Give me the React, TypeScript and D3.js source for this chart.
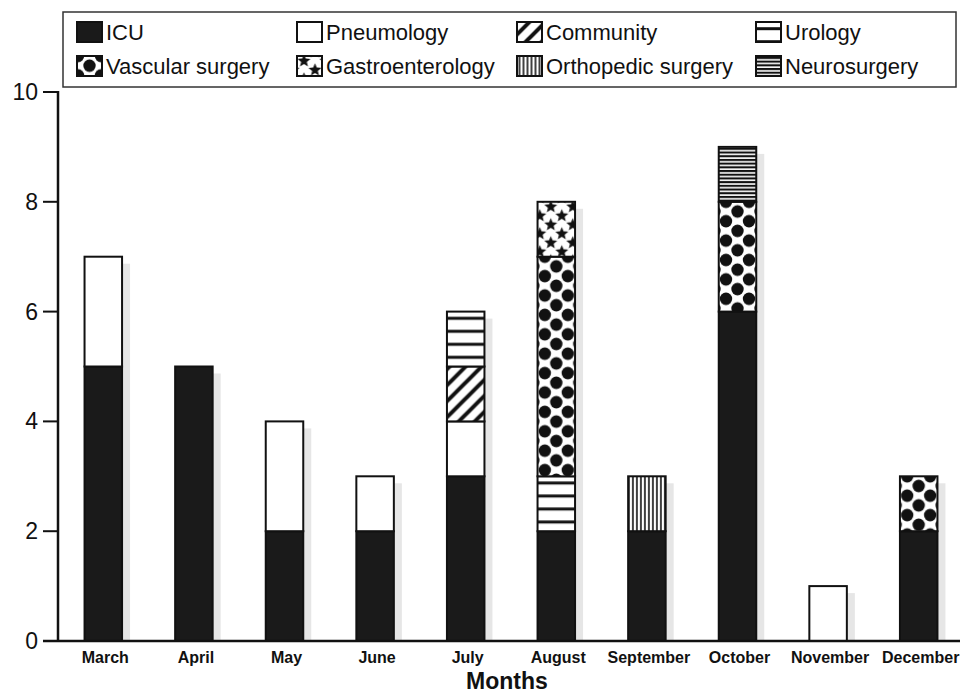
import React from "react";
import * as d3 from "d3";

const months = ["March", "April", "May", "June", "July", "August", "September", "October", "November", "December"];
const categories = ["ICU", "Pneumology", "Community", "Urology", "Vascular surgery", "Gastroenterology", "Orthopedic surgery", "Neurosurgery"];
const icu = [5, 5, 2, 2, 3, 2, 2, 6, 0, 2];
const pneumology = [2, 0, 2, 1, 1, 0, 0, 0, 1, 0];
const community = [0, 0, 0, 0, 1, 0, 0, 0, 0, 0];
const urology = [0, 0, 0, 0, 1, 1, 0, 0, 0, 0];
const vascular = [0, 0, 0, 0, 0, 4, 0, 2, 0, 1];
const gastro = [0, 0, 0, 0, 0, 1, 0, 0, 0, 0];
const ortho = [0, 0, 0, 0, 0, 0, 1, 0, 0, 0];
const neuro = [0, 0, 0, 0, 0, 0, 0, 1, 0, 0];
const yTicks = [0, 2, 4, 6, 8, 10];

const seriesValues = [icu, pneumology, community, urology, vascular, gastro, ortho, neuro];
const keys = ["icu", "pneu", "comm", "uro", "vasc", "gastro", "ortho", "neuro"];

const W = 960;
const H = 694;
const X0 = 58;
const X1 = 964;
const Y0 = 641;
const Y1 = 92;

function starPath(cx: number, cy: number, ro: number, ri: number) {
  const pts: string[] = [];
  for (let i = 0; i < 10; i++) {
    const a = -Math.PI / 2 + (i * Math.PI) / 5;
    const r = i % 2 === 0 ? ro : ri;
    pts.push(`${(cx + r * Math.cos(a)).toFixed(2)},${(cy + r * Math.sin(a)).toFixed(2)}`);
  }
  return "M" + pts.join("L") + "Z";
}

function PatternDef({ id, k, tx, ty }: { id: string; k: string; tx: number; ty: number }) {
  const common = { id, patternUnits: "userSpaceOnUse" as const };
  if (k === "comm") {
    const s = 16;
    return (
      <pattern {...common} width={s} height={s} patternTransform={`translate(${tx},${ty})`}>
        <rect width={s} height={s} fill="#fff" />
        <path d={`M-4,${s + 4} L${s + 4},-4 M-4,4 L4,-4 M${s - 4},${s + 4} L${s + 4},${s - 4}`} stroke="#111" strokeWidth={4} />
      </pattern>
    );
  }
  if (k === "uro") {
    const h = 13;
    return (
      <pattern {...common} width={10} height={h} patternTransform={`translate(${tx},${ty})`}>
        <rect width={10} height={h} fill="#fff" />
        <rect y={5.2} width={10} height={3} fill="#111" />
      </pattern>
    );
  }
  if (k === "vasc") {
    const w = 23, h = 19.4, r = 6.2;
    return (
      <pattern {...common} width={w} height={h} patternTransform={`translate(${tx - w / 2},${ty})`}>
        <rect width={w} height={h} fill="#fff" />
        {[[0, 0], [w, 0], [0, h], [w, h], [w / 2, h / 2]].map(([x, y], i) => (
          <circle key={i} cx={x} cy={y} r={r} fill="#111" />
        ))}
      </pattern>
    );
  }
  if (k === "gastro") {
    const w = 22, h = 18, ro = 6.8, ri = 3;
    return (
      <pattern {...common} width={w} height={h} patternTransform={`translate(${tx - w / 2},${ty})`}>
        <rect width={w} height={h} fill="#fff" />
        <path d={starPath(5.5, 5, ro, ri)} fill="#111" />
        <path d={starPath(16.5, 14, ro, ri)} fill="#111" />
        <path d={starPath(16.5, -4, ro, ri)} fill="#111" />
        <path d={starPath(-5.5, 14, ro, ri)} fill="#111" />
        <path d={starPath(27.5, 5, ro, ri)} fill="#111" />
        <path d={starPath(5.5, 23, ro, ri)} fill="#111" />
      </pattern>
    );
  }
  if (k === "ortho") {
    return (
      <pattern {...common} width={4} height={10} patternTransform={`translate(${tx},${ty})`}>
        <rect width={4} height={10} fill="#fff" />
        <rect x={1.2} width={1.6} height={10} fill="#111" />
      </pattern>
    );
  }
  if (k === "neuro") {
    return (
      <pattern {...common} width={10} height={3.7} patternTransform={`translate(${tx},${ty})`}>
        <rect width={10} height={3.7} fill="#fff" />
        <rect y={0.9} width={10} height={2.1} fill="#111" />
      </pattern>
    );
  }
  return null;
}

function fillFor(k: string, id: string) {
  if (k === "icu") return "#1a1a1a";
  if (k === "pneu") return "#fff";
  return `url(#${id})`;
}

export default function App() {
  const x = d3.scaleBand<string>().domain(months).range([X0, X1]).paddingInner(0.586).paddingOuter(0.293);
  const y = d3.scaleLinear().domain([0, 10]).range([Y0, Y1]);
  const bw = x.bandwidth();

  const table = months.map((m, i) => {
    const row: any = { month: m };
    keys.forEach((k, j) => (row[k] = seriesValues[j][i]));
    return row;
  });
  const stack = d3.stack<any>().keys(keys)(table);

  const segs: { id: string; k: string; x: number; y0: number; y1: number; m: string }[] = [];
  stack.forEach((layer) => {
    layer.forEach((d) => {
      if (d[1] - d[0] <= 0) return;
      const m = d.data.month;
      segs.push({ id: `p-${layer.key}-${months.indexOf(m)}`, k: layer.key, x: x(m)!, y0: y(d[0]), y1: y(d[1]), m });
    });
  });

  const totals = months.map((m, i) => ({ m, t: seriesValues.reduce((s, arr) => s + arr[i], 0) }));

  const legendCols = [77, 297, 517, 756];
  const legendRows = [22, 56];
  const legendItems = categories.map((c, i) => ({
    c,
    k: keys[i],
    sx: legendCols[i % 4],
    sy: legendRows[Math.floor(i / 4)],
  }));

  const font = "'Liberation Sans', Arial, Helvetica, sans-serif";

  return (
    <svg width={W} height={H} style={{ position: "absolute", left: 0, top: 0, background: "#fff" }} fontFamily={font}>
      <defs>
        {segs.map((s) => (
          <PatternDef key={s.id} id={s.id} k={s.k} tx={s.x + bw / 2} ty={s.y1} />
        ))}
        {legendItems.map((it) => (
          <PatternDef key={"lg-" + it.k} id={"lg-" + it.k} k={it.k} tx={it.sx + 12.5} ty={it.sy} />
        ))}
      </defs>
      <rect width={W} height={H} fill="#fff" />

      {totals.map(({ m, t }) => (
        <rect key={"sh-" + m} x={x(m)! + 8} y={y(t) + 7} width={bw} height={Y0 - y(t) - 7} fill="#e6e6e6" />
      ))}

      {segs.map((s) => (
        <rect key={"r-" + s.id} x={s.x} y={s.y1} width={bw} height={s.y0 - s.y1} fill={fillFor(s.k, s.id)} stroke="#111" strokeWidth={2} />
      ))}

      <line x1={X0} x2={X0} y1={Y1 - 1} y2={Y0} stroke="#111" strokeWidth={2.5} />
      <line x1={43} x2={W} y1={Y0} y2={Y0} stroke="#111" strokeWidth={2.5} />
      {yTicks.map((t) => (
        <g key={"yt-" + t}>
          <line x1={43} x2={X0} y1={y(t)} y2={y(t)} stroke="#111" strokeWidth={2} />
          <text x={38} y={y(t)} dy="0.35em" textAnchor="end" fontSize={23} fill="#111">
            {t}
          </text>
        </g>
      ))}
      {months.map((m) => (
        <text key={"xl-" + m} x={x(m)! + bw / 2 + 2} y={663} textAnchor="middle" fontSize={16} fontWeight="bold" fill="#111">
          {m}
        </text>
      ))}
      <text x={507} y={689} textAnchor="middle" fontSize={23} fontWeight="bold" fill="#111">
        Months
      </text>

      <rect x={63} y={12} width={893} height={75} fill="#fff" stroke="#333" strokeWidth={1.5} />
      {legendItems.map((it) => (
        <g key={"lgi-" + it.k}>
          <rect x={it.sx} y={it.sy} width={25} height={20} fill={fillFor(it.k, "lg-" + it.k)} stroke="#111" strokeWidth={2} />
          <text x={it.sx + 29} y={it.sy + 18} fontSize={22} fill="#111">
            {it.c}
          </text>
        </g>
      ))}
    </svg>
  );
}
